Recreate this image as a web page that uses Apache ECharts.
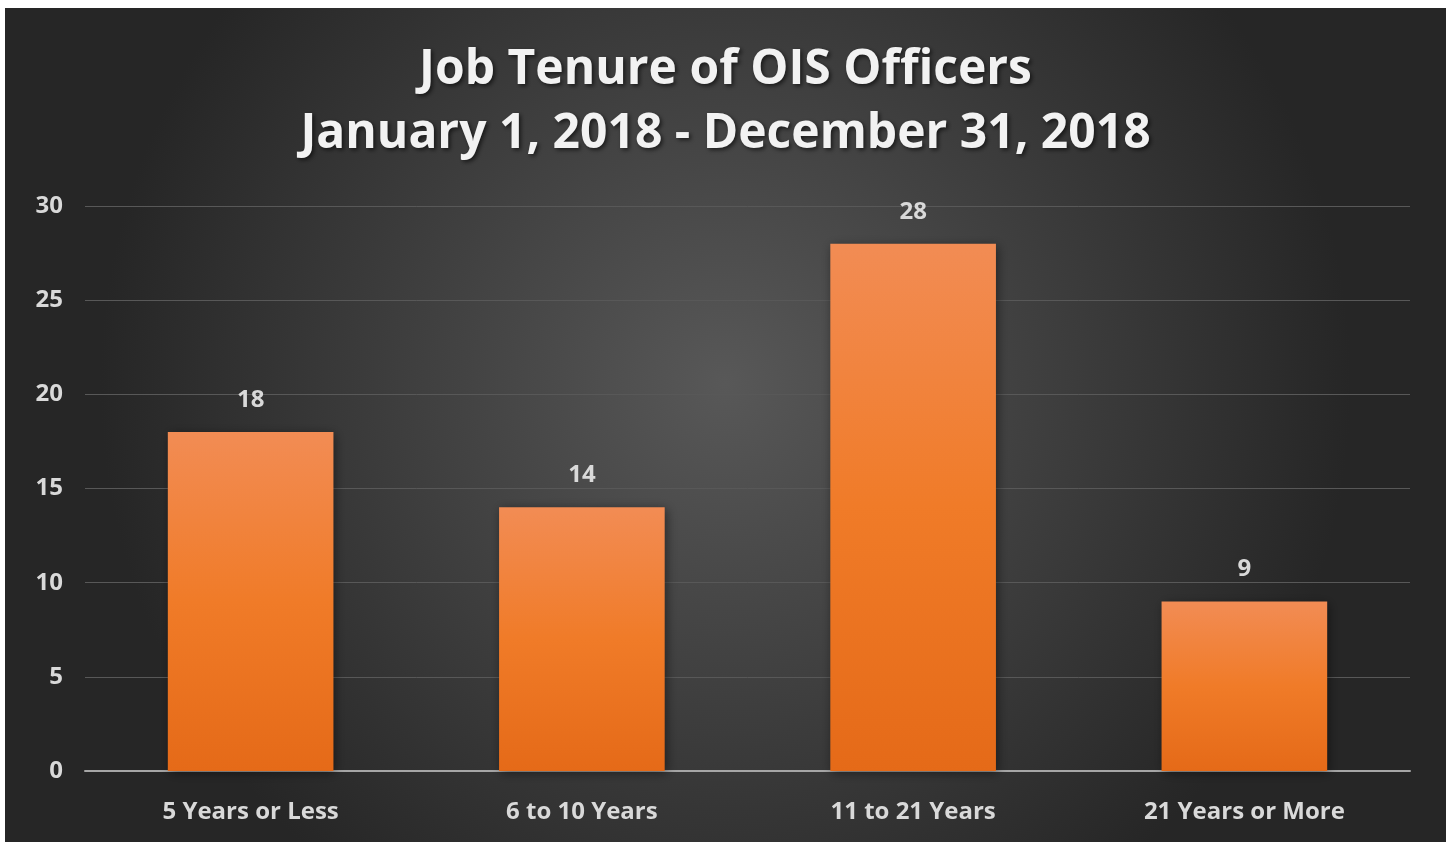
<!DOCTYPE html>
<html>
<head>
<meta charset="utf-8">
<script src="https://cdn.jsdelivr.net/npm/echarts@6/dist/echarts.min.js"></script>
<style>
  html, body { margin: 0; padding: 0; background: #ffffff; }
  #chart { position: absolute; left: 5px; top: 8px; width: 1441px; height: 834px; }
</style>
</head>
<body>
<div id="chart"></div>
<script>
// data
var categories = ['5 Years or Less', '6 to 10 Years', '11 to 21 Years', '21 Years or More'];
var officers = [18, 14, 28, 9];
var yTicks = [0, 5, 10, 15, 20, 25, 30];

var chart = echarts.init(document.getElementById('chart'));

var option = {
    backgroundColor: {
        type: 'radial', x: 0.5, y: 0.45, r: 0.75,
        colorStops: [
            { offset: 0, color: '#585858' },
            { offset: 1, color: '#262626' }
        ]
    },
    title: {
        text: 'Job Tenure of OIS Officers\nJanuary 1, 2018 - December 31, 2018',
        left: 'center',
        top: 25,
        textStyle: {
            color: '#f2f2f2',
            fontFamily: 'Open Sans',
            fontWeight: 'bold',
            fontSize: 48,
            lineHeight: 64,
            textShadowColor: 'rgba(0,0,0,0.6)',
            textShadowBlur: 4,
            textShadowOffsetX: 2,
            textShadowOffsetY: 2
        }
    },
    grid: {
        left: 80,
        right: 36,
        top: 198,
        bottom: 71
    },
    xAxis: {
        type: 'category',
        data: categories,
        axisLine: { lineStyle: { color: '#a6a6a6', width: 2 } },
        axisTick: { show: false },
        axisLabel: {
            color: '#d9d9d9',
            fontFamily: 'Open Sans',
            fontWeight: 'bold',
            fontSize: 24,
            margin: 29
        }
    },
    yAxis: {
        type: 'value',
        min: yTicks[0],
        max: yTicks[yTicks.length - 1],
        interval: 5,
        axisLine: { show: false },
        axisTick: { show: false },
        splitLine: { lineStyle: { color: '#585858', width: 1 } },
        axisLabel: {
            color: '#d9d9d9',
            fontFamily: 'Open Sans',
            fontWeight: 'bold',
            fontSize: 24,
            margin: 22
        }
    },
    series: [{
        type: 'bar',
        data: officers,
        barWidth: '50%',
        itemStyle: {
            color: {
                type: 'linear', x: 0, y: 0, x2: 0, y2: 1,
                colorStops: [
                    { offset: 0, color: '#f28c54' },
                    { offset: 0.5, color: '#f07b28' },
                    { offset: 1, color: '#e56a18' }
                ]
            },
            shadowColor: 'rgba(0,0,0,0.45)',
            shadowBlur: 10,
            shadowOffsetX: 2,
            shadowOffsetY: 2
        },
        label: {
            show: true,
            position: 'top',
            distance: 20,
            color: '#d9d9d9',
            fontFamily: 'Open Sans',
            fontWeight: 'bold',
            fontSize: 24
        }
    }]
};

chart.setOption(option);
</script>
</body>
</html>
